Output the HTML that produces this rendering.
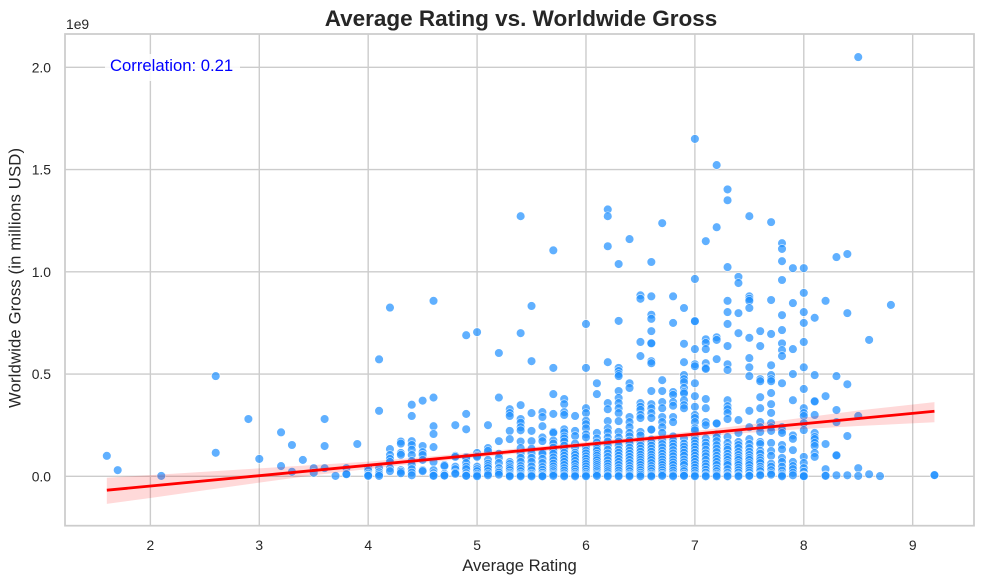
<!DOCTYPE html>
<html lang="en">
<head>
<meta charset="utf-8">
<title>Average Rating vs. Worldwide Gross</title>
<style>
html,body{margin:0;padding:0;background:#fff;width:984px;height:584px;overflow:hidden}
svg{display:block}
text{font-family:"Liberation Sans",Arial,sans-serif;fill:#262626}
</style>
</head>
<body>
<svg id="chart" xmlns="http://www.w3.org/2000/svg" width="984" height="584" viewBox="0 0 984 584">
  <rect x="0" y="0" width="984" height="584" fill="#ffffff"/>
  <defs><clipPath id="plot-clip"><rect x="65" y="34" width="909" height="491.7"/></clipPath></defs>
  <g id="grid"></g>
  <g id="points" clip-path="url(#plot-clip)"></g>
  <path id="band" fill="#ff0000" fill-opacity="0.15" stroke="none"></path>
  <path id="fit" fill="none" stroke="#ff0000" stroke-width="2.8"></path>
  <rect x="105" y="54" width="135" height="27" fill="#ffffff" fill-opacity="0.85"/>
  <text x="110" y="71" font-size="16.67" style="fill:#0000ff">Correlation: 0.21</text>
  <rect x="65" y="34" width="909" height="491.7" fill="none" stroke="#cccccc" stroke-width="1.75"/>
  <g id="xticks"></g>
  <g id="yticks"></g>
  <text x="66" y="29" font-size="13.89">1e9</text>
  <text x="521" y="26" font-size="22.5" font-weight="700" text-anchor="middle">Average Rating vs. Worldwide Gross</text>
  <text x="519.5" y="571" font-size="16.67" text-anchor="middle">Average Rating</text>
  <text x="0" y="0" font-size="16.67" text-anchor="middle" textLength="260" lengthAdjust="spacing" transform="translate(20.5 278) rotate(-90)">Worldwide Gross (in millions USD)</text>
</svg>
<script>
const xTickValues = [2, 3, 4, 5, 6, 7, 8, 9];
const xTickLabels = ["2", "3", "4", "5", "6", "7", "8", "9"];
const yTickValues = [0, 500, 1000, 1500, 2000];
const yTickLabels = ["0.0", "0.5", "1.0", "1.5", "2.0"];
const xDomain = [1.216, 9.563];
const yDomain = [-241.6, 2163];

const ratingColumns = [1.6,1.7,2.1,2.6,2.9,3.0,3.2,3.3,3.4,3.5,3.6,3.7,3.8,3.9,4.0,4.1,4.2,4.3,4.4,4.5,4.6,4.7,4.8,4.9,5.0,5.1,5.2,5.3,5.4,5.5,5.6,5.7,5.8,5.9,6.0,6.1,6.2,6.3,6.4,6.5,6.6,6.7,6.8,6.9,7.0,7.1,7.2,7.3,7.4,7.5,7.6,7.7,7.8,7.9,8.0,8.1,8.2,8.3,8.4,8.5,8.6,8.7,8.8,9.2];
const grossByRating = [
  [100],
  [30],
  [2],
  [490,115],
  [280],
  [85],
  [215,50],
  [153,22],
  [80],
  [40,17],
  [280,148,40],
  [2],
  [40,12,10],
  [158],
  [42,28,12,5,2],
  [572,320,40,20,10,2],
  [825,133,104,85,70,40,25],
  [170,160,114,105,30,22,15],
  [350,295,172,153,130,104,75,55,35,18,5],
  [370,148,118,104,80,30,25],
  [858,385,245,207,143,70,30,15,5,2],
  [55,50,12,5,3],
  [250,100,95,47,35,17,12],
  [690,305,230,95,90,65,47,35,15,5,2],
  [705,114,100,95,47,35,25,12,5,0],
  [250,138,124,80,62,50,40,25,12,5],
  [603,385,172,110,90,65,40,25,18,8],
  [328,309,295,222,182,70,60,48,40,30,18,10,4,0],
  [1272,700,348,280,262,240,225,170,138,112,90,70,50,38,25,12,5,0],
  [833,563,309,222,172,135,112,90,70,48,30,12,5,0],
  [314,290,245,190,172,120,110,85,65,45,32,18,8,2,0],
  [1105,530,402,305,217,212,175,160,140,125,110,92,78,62,48,35,25,15,8,2],
  [378,353,314,300,230,215,195,185,170,150,132,115,100,85,70,55,40,28,15,5,0],
  [295,222,197,160,140,115,105,90,75,60,45,35,22,12,5,0],
  [745,530,333,309,272,255,235,205,190,140,125,112,98,85,72,60,48,35,22,12,5,0],
  [455,402,212,185,165,150,135,125,110,100,88,78,65,55,45,35,25,15,8,2],
  [1305,1272,1125,558,358,328,270,235,215,190,170,150,130,112,95,78,62,48,35,25,15,5,0],
  [1038,760,530,515,500,490,417,383,358,333,309,270,217,190,170,150,130,115,100,85,70,55,40,28,15,5,0],
  [1160,455,432,290,265,240,212,195,175,160,140,125,110,95,80,65,50,38,25,12,5,0],
  [885,868,657,588,358,340,325,300,285,217,200,165,150,135,120,105,92,80,68,55,42,30,18,8,0],
  [1048,880,790,770,710,652,650,563,553,417,353,333,309,285,230,228,180,165,150,135,120,105,92,80,65,50,38,25,12,5,0],
  [1238,470,417,363,333,290,265,240,212,175,158,142,125,110,95,82,68,55,42,30,18,8,2],
  [880,750,412,398,363,345,290,265,195,175,160,145,128,112,98,82,68,55,40,28,15,5,0],
  [823,648,558,495,475,460,432,412,405,372,348,333,185,160,145,130,115,100,82,68,55,35,25,12,5,2],
  [1650,965,760,758,622,548,538,455,392,340,300,285,265,235,225,190,175,160,145,130,115,100,85,70,55,42,28,15,5,0],
  [1150,670,652,622,553,530,525,378,333,265,250,185,165,150,130,112,98,80,62,48,32,18,5,0],
  [1522,1218,680,667,573,260,258,205,190,172,152,135,118,100,85,70,55,38,25,12,5,0],
  [1403,1350,1023,858,803,745,637,548,520,372,343,328,309,280,192,163,143,130,110,95,80,65,55,35,17,5,0],
  [975,945,798,700,275,212,168,153,138,119,104,90,80,65,55,42,30,18,5,0],
  [1272,880,868,858,823,677,578,533,490,320,240,182,158,138,120,104,90,80,65,55,40,28,17,5,2],
  [710,637,475,465,387,333,265,240,217,168,158,125,110,90,78,65,47,35,25,10,5],
  [1243,862,696,543,495,475,465,407,353,310,260,240,222,163,124,100,62,47,30,15,8],
  [1140,1112,1052,960,788,715,650,617,588,455,240,225,212,153,132,90,70,47,28,12,5,0],
  [1018,847,622,500,372,200,183,128,70,50,35,17,5],
  [1018,897,803,750,657,533,427,333,309,295,260,226,95,65,40,22,5,2,0],
  [775,495,368,366,300,212,192,182,163,148,114,95],
  [858,392,158,35,5,2],
  [1072,490,324,265,104,102,5],
  [1087,798,450,197,5],
  [2050,295,40,2],
  [667,10],
  [1],
  [838],
  [5,6]
];

const fitRatings = [1.6, 9.2];
const fitGross = [-68, 318];
const bandRatings = [1.6,2,2.5,3,3.5,4,4.5,5,5.5,6,6.5,7,7.5,8,8.5,9.2];
const bandUpper = [-7,6,22,39,55,72,93,118,142,167,193,221,253,287,322,363];
const bandLower = [-135,-106,-68,-31,5,36,66,92,118,144,168,192,213,231,246,264];

const SVG_NS = "http://www.w3.org/2000/svg";
const plot = { left: 65, right: 974, top: 34, bottom: 525.7 };
function xScale(v) {
  return plot.left + (v - xDomain[0]) / (xDomain[1] - xDomain[0]) * (plot.right - plot.left);
}
function yScale(v) {
  return plot.bottom - (v - yDomain[0]) / (yDomain[1] - yDomain[0]) * (plot.bottom - plot.top);
}
const gridGroup = document.getElementById("grid");
const xTickGroup = document.getElementById("xticks");
const yTickGroup = document.getElementById("yticks");
const pointGroup = document.getElementById("points");

xTickValues.forEach(function (value, i) {
  const line = document.createElementNS(SVG_NS, "line");
  
  
  line.setAttribute("x1", xScale(value));
  line.setAttribute("x2", xScale(value));
  line.setAttribute("y1", plot.top);
  line.setAttribute("y2", plot.bottom);
  line.setAttribute("stroke", "#cccccc");
  line.setAttribute("stroke-width", "1.4");
  gridGroup.appendChild(line);
  const label = document.createElementNS(SVG_NS, "text");
  
  
  label.setAttribute("x", xScale(value));
  label.setAttribute("y", 550);
  label.setAttribute("font-size", "13.89");
  label.setAttribute("text-anchor", "middle");
  label.textContent = xTickLabels[i];
  xTickGroup.appendChild(label);
});

yTickValues.forEach(function (value, i) {
  const line = document.createElementNS(SVG_NS, "line");
  
  
  line.setAttribute("x1", plot.left);
  line.setAttribute("x2", plot.right);
  line.setAttribute("y1", yScale(value));
  line.setAttribute("y2", yScale(value));
  line.setAttribute("stroke", "#cccccc");
  line.setAttribute("stroke-width", "1.4");
  gridGroup.appendChild(line);
  const label = document.createElementNS(SVG_NS, "text");
  
  
  label.setAttribute("x", 51);
  label.setAttribute("y", yScale(value) + 5);
  label.setAttribute("font-size", "13.89");
  label.setAttribute("text-anchor", "end");
  label.textContent = yTickLabels[i];
  yTickGroup.appendChild(label);
});

ratingColumns.forEach(function (rating, c) {
  grossByRating[c].forEach(function (gross) {
    const dot = document.createElementNS(SVG_NS, "circle");
    
    
    dot.setAttribute("cx", xScale(rating));
    dot.setAttribute("cy", yScale(gross));
    dot.setAttribute("r", "4.4");
    dot.setAttribute("fill", "#1e90ff");
    dot.setAttribute("stroke", "#ffffff");
    dot.setAttribute("stroke-width", "0.7");
    dot.setAttribute("opacity", "0.7");
    pointGroup.appendChild(dot);
  });
});

const upperPath = bandRatings.map(function (r, i) {
  return (i ? "L" : "M") + xScale(r).toFixed(2) + " " + yScale(bandUpper[i]).toFixed(2);
}).join(" ");
const lowerPath = bandRatings.map(function (r, i) {
  return "L" + xScale(r).toFixed(2) + " " + yScale(bandLower[i]).toFixed(2);
}).reverse().join(" ");
document.getElementById("band").setAttribute("d", upperPath + " " + lowerPath + " Z");
document.getElementById("fit").setAttribute("d", fitRatings.map(function (r, i) {
  return (i ? "L" : "M") + xScale(r).toFixed(2) + " " + yScale(fitGross[i]).toFixed(2);
}).join(" "));
</script>
</body>
</html>
